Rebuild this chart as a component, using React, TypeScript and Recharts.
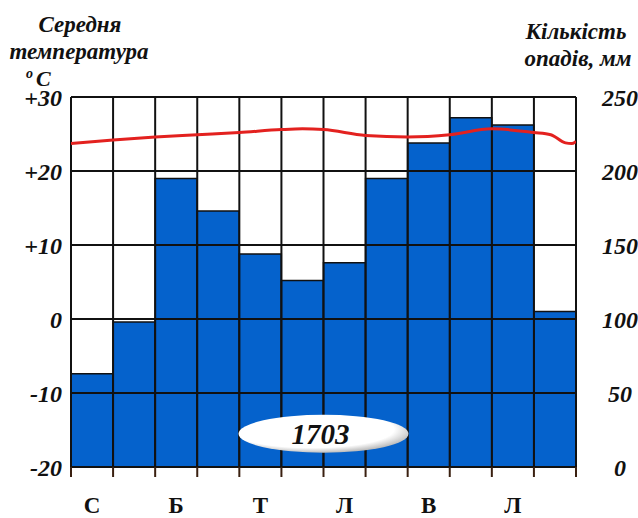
import React from 'react';
import { ComposedChart, Bar, Line, XAxis, YAxis, ReferenceLine, ReferenceDot } from 'recharts';

const months = ['С', 'Л', 'Б', 'К', 'Т', 'Ч', 'Л', 'С', 'В', 'Ж', 'Л', 'Г'];
const precipitation = [63, 98, 195, 173, 144, 126, 138, 195, 219, 236, 231, 105];
const tempX = [0, 1, 2, 3, 4, 5, 5.5, 6, 7, 8, 9, 10, 11, 11.4, 11.75, 11.9, 12];
const tempY = [23.7, 24.2, 24.6, 24.9, 25.2, 25.6, 25.7, 25.6, 24.8, 24.6, 24.9, 25.7, 25.2, 24.9, 23.8, 23.7, 24.0];
const tempTicks = [-20, -10, 0, 10, 20, 30];
const precTicks = [0, 50, 100, 150, 200, 250];
const monthBoundaries = [0, 1, 2, 3, 4, 5, 6, 7, 8, 9, 10, 11, 12];
const monthCentres = [0.5, 1.5, 2.5, 3.5, 4.5, 5.5, 6.5, 7.5, 8.5, 9.5, 10.5, 11.5];
const annualTotal = '1703';
const annualLabelPos = { x: 6, y: -15.5 };

const barData = months.map((m, i) => ({ m, p: precipitation[i] }));
const lineData = tempX.map((x, i) => ({ x, t: tempY[i] }));

const FONT = '"Liberation Serif", "Times New Roman", serif';
const BLUE = '#0562cc';
const INK = '#111';
const TICK_BROWN = '#3a2010';

// Bottom axis: every tick is rendered here. Integer ticks are month boundaries
// (drawn as short marks), half ticks are month centres (labels on every second month).
const MonthTick = (props: any) => {
  const { x, y, payload } = props;
  const v = Number(payload.value);
  const idx = Math.floor(v);
  const isBoundary = Math.abs(v - Math.round(v)) < 1e-6;
  if (isBoundary) {
    return <path d={`M${x},${y}L${x},${y + 10}`} stroke={TICK_BROWN} strokeWidth={2} fill="none" />;
  }
  if (idx % 2 !== 0) return <g />;
  return (
    <text x={x} y={y + 46} textAnchor="middle" fontFamily={FONT} fontWeight="bold" fontSize={23} fill={INK}>
      {months[idx]}
    </text>
  );
};

const TempTick = (props: any) => {
  const { x, y, payload } = props;
  const v = payload.value as number;
  const label = v > 0 ? `+${v}` : String(v);
  return (
    <text x={x - 9} y={y} dy="0.36em" textAnchor="end" fontFamily={FONT} fontWeight="bold" fontStyle="italic" fontSize={24} fill={INK}>
      {label}
    </text>
  );
};

const PrecTick = (props: any) => {
  const { x, y, payload } = props;
  return (
    <text x={x + 44} y={y} dy="0.38em" textAnchor="middle" fontFamily={FONT} fontWeight="bold" fontStyle="italic" fontSize={24} fill={INK}>
      {String(payload.value)}
    </text>
  );
};

const TotalBadge = (props: any) => {
  const { cx, cy } = props;
  return (
    <g>
      <defs>
        <radialGradient id="badgeGrad" cx="44%" cy="40%" r="62%" fx="40%" fy="34%">
          <stop offset="0%" stopColor="#ffffff" />
          <stop offset="78%" stopColor="#ffffff" />
          <stop offset="100%" stopColor="#b5b5b5" />
        </radialGradient>
      </defs>
      <ellipse cx={cx} cy={cy} rx={85} ry={19} fill="url(#badgeGrad)" />
      <text x={cx - 3} y={cy + 10} textAnchor="middle" fontFamily={FONT} fontStyle="italic" fontWeight="bold" fontSize={29} fill={INK}>
        {annualTotal}
      </text>
    </g>
  );
};

const titleStyle = { fontFamily: FONT, fontWeight: 'bold' as const, fontStyle: 'italic' as const, fill: INK };
const bottomTicks = [...monthBoundaries, ...monthCentres].sort((a, b) => a - b);

export default function App() {
  return (
    <div style={{ position: 'absolute', left: 0, top: 0, width: 638, height: 518, background: '#fff' }}>
      <ComposedChart
        width={638}
        height={518}
        data={barData}
        margin={{ top: 97, right: 0, bottom: 0, left: 0 }}
        barCategoryGap={0}
        barGap={0}
      >
        <XAxis xAxisId="cat" dataKey="m" type="category" orientation="top" height={0} hide />
        <XAxis
          xAxisId="num"
          dataKey="x"
          type="number"
          domain={[0, 12]}
          ticks={bottomTicks}
          interval={0}
          minTickGap={0}
          tickSize={0}
          tickMargin={0}
          tickLine={false}
          axisLine={{ stroke: INK, strokeWidth: 2 }}
          tick={<MonthTick />}
          height={51}
          allowDataOverflow
        />
        <YAxis
          yAxisId="t"
          orientation="left"
          type="number"
          domain={[-20, 30]}
          ticks={tempTicks}
          interval={0}
          width={71}
          axisLine={false}
          tickLine={false}
          tickSize={0}
          tickMargin={0}
          tick={<TempTick />}
          allowDataOverflow
        />
        <YAxis
          yAxisId="p"
          orientation="right"
          type="number"
          domain={[0, 250]}
          ticks={precTicks}
          interval={0}
          width={62}
          axisLine={false}
          tickLine={false}
          tickSize={0}
          tickMargin={0}
          tick={<PrecTick />}
          allowDataOverflow
        />
        <Bar
          xAxisId="cat"
          yAxisId="p"
          dataKey="p"
          fill={BLUE}
          stroke={INK}
          strokeWidth={1.5}
          isAnimationActive={false}
        />
        {tempTicks.map((v) => (
          <ReferenceLine key={`h${v}`} xAxisId="num" yAxisId="t" y={v} stroke={INK} strokeWidth={2} />
        ))}
        {monthBoundaries.map((v) => (
          <ReferenceLine key={`v${v}`} xAxisId="num" yAxisId="t" x={v} stroke={INK} strokeWidth={2} />
        ))}
        <Line
          xAxisId="num"
          yAxisId="t"
          data={lineData}
          dataKey="t"
          type="monotone"
          stroke="#e3211f"
          strokeWidth={3}
          dot={false}
          activeDot={false}
          isAnimationActive={false}
        />
        <ReferenceDot
          xAxisId="num"
          yAxisId="t"
          x={annualLabelPos.x}
          y={annualLabelPos.y}
          r={1}
          shape={(p: any) => <TotalBadge {...p} />}
        />
      </ComposedChart>
      <svg width={638} height={518} style={{ position: 'absolute', left: 0, top: 0, pointerEvents: 'none' }}>
        <text x={80} y={32} textAnchor="middle" fontSize={23} {...titleStyle}>Середня</text>
        <text x={79} y={59} textAnchor="middle" fontSize={23} {...titleStyle}>температура</text>
        <text x={26} y={78} fontSize={14} {...titleStyle}>o</text>
        <text x={36} y={86} fontSize={22} {...titleStyle}>C</text>
        <text x={576} y={39} textAnchor="middle" fontSize={23} {...titleStyle}>Кількість</text>
        <text x={578} y={66} textAnchor="middle" fontSize={23} {...titleStyle}>опадів, мм</text>
      </svg>
    </div>
  );
}
